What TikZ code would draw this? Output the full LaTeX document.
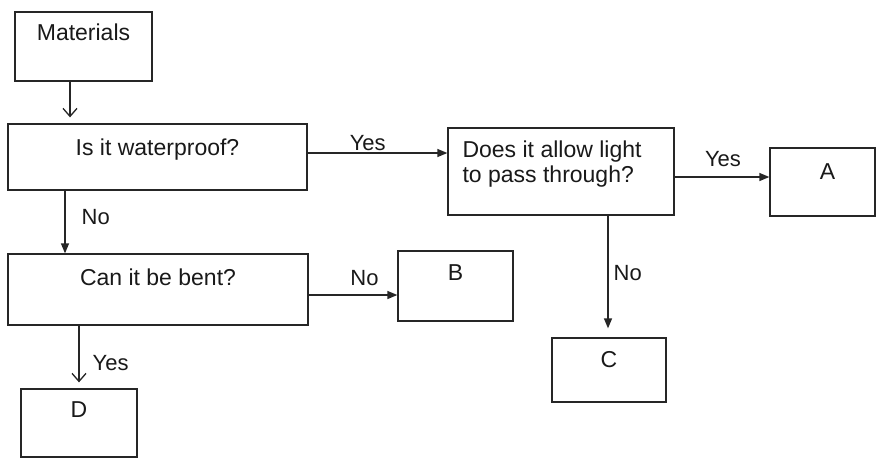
\documentclass[tikz,border=0pt]{standalone}
\usepackage{fontspec}
\setmainfont{Liberation Sans}
\usetikzlibrary{arrows.meta}
\begin{document}
\begin{tikzpicture}[x=1pt,y=-1pt,
  box/.style={draw=black!85, line width=1.3pt, inner sep=0pt},
  txt/.style={text=black!90, font=\fontsize{23}{25}\selectfont},
  lab/.style={txt, anchor=base, inner sep=0pt, yshift=-#1},
  lbl/.style={txt, anchor=base, inner sep=0pt, font=\fontsize{22}{24}\selectfont},
  vlbl/.style={txt, anchor=west, inner sep=0pt, font=\fontsize{22}{24}\selectfont},
  arrT/.style={draw=black!85, line width=1.3pt, -{Triangle[length=10pt,width=8pt]}},
  arrV/.style={draw=black!85, line width=1.3pt, -{Straight Barb[length=8pt,width=14pt,line width=1.3pt]}}]
\useasboundingbox (0,0) rectangle (877,459);

% boxes
\node[box, minimum width=137pt, minimum height=69pt, label={[lab=29pt]north:Materials}] (mat) at (83.5,46.5) {};
\node[box, minimum width=299pt, minimum height=66pt, label={[lab=32pt]north:Is it waterproof?}] (wp) at (157.5,157) {};
\node[box, minimum width=226pt, minimum height=87pt] (does) at (561,171.5) {};
\node[txt, anchor=north west, inner sep=0pt, align=left] (doestxt) at ([xshift=15pt,yshift=-13.7pt]does.north west) {Does it allow light\\to pass through?};
\node[box, minimum width=105pt, minimum height=68pt, label={[lab=32pt, xshift=5pt]north:A}] (A) at (822.5,182) {};
\node[box, minimum width=300pt, minimum height=71pt, label={[lab=32pt]north:Can it be bent?}] (bent) at (158,289.5) {};
\node[box, minimum width=115pt, minimum height=70pt, label={[lab=30pt]north:B}] (B) at (455.5,286) {};
\node[box, minimum width=114pt, minimum height=64pt, label={[lab=30pt]north:C}] (C) at (609,370) {};
\node[box, minimum width=116pt, minimum height=68pt, label={[lab=29pt]north:D}] (D) at (79,423) {};

% connectors
\coordinate (m1) at ([xshift=-13.5pt]mat.south);
\draw[arrV, shorten >=6pt] (m1) -- (m1 |- wp.north);

\coordinate (w1) at ([yshift=4pt]wp.east);
\draw[arrT] (w1) -- (w1 -| does.west) node[lbl, pos=0.43, yshift=3pt] (ly1) {Yes};

\coordinate (w2) at ([xshift=-92.5pt]wp.south);
\draw[arrT] (w2) -- (w2 |- bent.north) node[vlbl, pos=0.42, xshift=16pt] (ln1) {No};

\coordinate (d1) at ([yshift=-5.5pt]does.east);
\draw[arrT] (d1) -- (d1 -| A.west) node[lbl, pos=0.51, yshift=11pt] (ly2) {Yes};

\coordinate (d2) at ([xshift=47pt]does.south);
\draw[arrT, shorten >=9pt] (d2) -- (d2 |- C.north) node[vlbl, pos=0.47, xshift=5pt] (ln2) {No};

\coordinate (b1) at ([yshift=-5.5pt]bent.east);
\draw[arrT] (b1) -- (b1 -| B.west) node[lbl, pos=0.63, yshift=10pt] (ln3) {No};

\coordinate (b2) at ([xshift=-79pt]bent.south);
\draw[arrV, shorten >=6pt] (b2) -- (b2 |- D.north) node[vlbl, pos=0.59, xshift=13pt] (ly3) {Yes};
\end{tikzpicture}
\end{document}
